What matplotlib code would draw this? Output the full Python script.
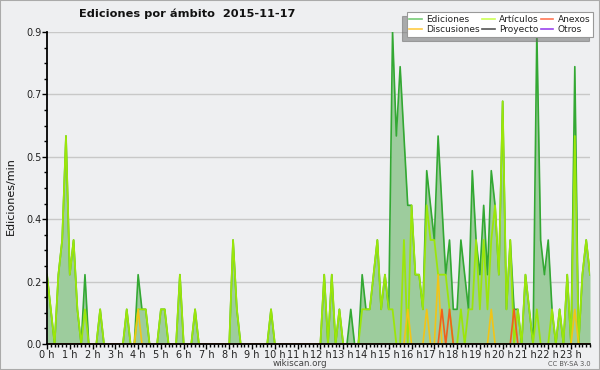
import matplotlib
matplotlib.use("Agg")
import matplotlib.pyplot as plt
from matplotlib.lines import Line2D
from matplotlib.patches import Rectangle
from matplotlib.ticker import FixedLocator, MultipleLocator, FuncFormatter
import numpy as np

# Edits per minute, 10-minute buckets (144 per day)
ediciones = [
    0.2, 0.1, 0, 0.2, 0.3, 0.6, 0.2, 0.3, 0.1, 0, 0.2, 0,
    0, 0, 0.1, 0, 0, 0, 0, 0, 0, 0.1, 0, 0,
    0.2, 0.1, 0.1, 0, 0, 0, 0.1, 0.1, 0, 0, 0, 0.2,
    0, 0, 0, 0.1, 0, 0, 0, 0, 0, 0, 0, 0,
    0, 0.3, 0.1, 0, 0, 0, 0, 0, 0, 0, 0, 0.1,
    0, 0, 0, 0, 0, 0, 0, 0, 0, 0, 0, 0,
    0, 0.2, 0, 0.2, 0, 0.1, 0, 0, 0.1, 0, 0, 0.2,
    0.1, 0.1, 0.2, 0.3, 0.1, 0.2, 0.1, 0.9, 0.6, 0.8, 0.6, 0.4,
    0.4, 0.2, 0.2, 0.1, 0.5, 0.4, 0.3, 0.6, 0.4, 0.2, 0.3, 0.1,
    0.1, 0.3, 0.2, 0.1, 0.5, 0.3, 0.2, 0.4, 0.2, 0.5, 0.4, 0.2,
    0.7, 0.1, 0.3, 0.1, 0.1, 0, 0.2, 0.1, 0, 0.9, 0.3, 0.2,
    0.3, 0.1, 0, 0.1, 0, 0.2, 0, 0.8, 0, 0.2, 0.3, 0.2,
]
articulos = [
    0.2, 0.1, 0, 0.2, 0.3, 0.6, 0.2, 0.3, 0.1, 0, 0.1, 0,
    0, 0, 0.1, 0, 0, 0, 0, 0, 0, 0.1, 0, 0,
    0.1, 0.1, 0.1, 0, 0, 0, 0.1, 0.1, 0, 0, 0, 0.2,
    0, 0, 0, 0.1, 0, 0, 0, 0, 0, 0, 0, 0,
    0, 0.3, 0.1, 0, 0, 0, 0, 0, 0, 0, 0, 0.1,
    0, 0, 0, 0, 0, 0, 0, 0, 0, 0, 0, 0,
    0, 0.2, 0, 0.2, 0, 0.1, 0, 0, 0, 0, 0, 0.1,
    0.1, 0.1, 0.2, 0.3, 0.1, 0.2, 0.1, 0.1, 0, 0, 0.3, 0,
    0.4, 0.2, 0.2, 0.1, 0.4, 0.3, 0.3, 0.2, 0.2, 0.2, 0.1, 0,
    0, 0.1, 0, 0.1, 0.1, 0.3, 0.1, 0.3, 0.1, 0.3, 0.4, 0.2,
    0.7, 0.1, 0.3, 0, 0.1, 0, 0.2, 0.1, 0, 0.1, 0, 0,
    0, 0.1, 0, 0.1, 0, 0.2, 0, 0.6, 0, 0.2, 0.3, 0.2,
]
# sparse series: {bucket index: value}
discusiones_pts = {24: 0.1, 95: 0.1, 100: 0.1, 103: 0.2, 117: 0.1, 139: 0.1}
anexos_pts = {104: 0.1, 106: 0.1, 123: 0.1}

hour_labels = [f"{h} h" for h in range(24)]
legend_names = ["Ediciones", "Discusiones", "Artículos", "Proyecto", "Anexos", "Otros"]

BG = "#eeeff1"
FILL = "#9dcc9d"
C_EDIC = "#33a833"
C_ART = "#9be60a"
C_DISC = "#f2c417"
C_ANEX = "#f0601c"

n = len(ediciones)
x = np.arange(n) / 6.0
discusiones = np.zeros(n)
for k, v in discusiones_pts.items():
    discusiones[k] = v
anexos = np.zeros(n)
for k, v in anexos_pts.items():
    anexos[k] = v

plt.rcParams["font.family"] = "DejaVu Sans"
fig = plt.figure(figsize=(6, 3.7), dpi=100, facecolor=BG)
ax = fig.add_axes([47 / 600, 26 / 370, 543 / 600, 312 / 370], facecolor=BG)

ax.fill_between(x, ediciones, 0, color=FILL, lw=0, zorder=1)
ax.plot(x, ediciones, color=C_EDIC, lw=1.2, zorder=2)
ax.plot(x, articulos, color=C_ART, lw=1.3, zorder=3)
ax.plot(x, discusiones, color=C_DISC, lw=1.2, zorder=4)
ax.plot(x, anexos, color=C_ANEX, lw=1.2, zorder=5)

ax.set_xlim(0, (n - 1) / 6.0)
ax.set_ylim(0, 0.9)

yt = [0, 0.18, 0.36, 0.54, 0.72, 0.9]
ax.yaxis.set_major_locator(FixedLocator(yt))
ax.yaxis.set_major_formatter(FuncFormatter(lambda v, p: f"{v:.1f}"))
ax.yaxis.set_minor_locator(MultipleLocator(0.045))
ax.set_xticks(range(24))
ax.set_xticklabels(hour_labels)
ax.xaxis.set_minor_locator(MultipleLocator(1 / 6))

ax.tick_params(axis="both", which="major", direction="out", length=3.5, width=1,
               labelsize=7, colors="black", labelcolor="#222222", pad=0.5)
ax.tick_params(axis="both", which="minor", direction="out", length=2.5, width=1, colors="black")
ax.grid(axis="y", color="#c8c8c8", lw=1, zorder=0)
ax.set_axisbelow(True)

for s in ["top", "right"]:
    ax.spines[s].set_visible(False)
for s in ["left", "bottom"]:
    ax.spines[s].set_color("black")
    ax.spines[s].set_linewidth(1.3)
    ax.spines[s].set_zorder(6)

fig.text(0.312, 0.962, "Ediciones por ámbito  2015-11-17", ha="center", va="center",
         fontsize=8.2, fontweight="bold", color="#111111")
fig.text(0.018, 0.47, "Ediciones/min", rotation=90, ha="center", va="center",
         fontsize=8, color="#111111")
fig.text(0.5, 1 - 363.5 / 370, "wikiscan.org", ha="center", va="center",
         fontsize=6.3, color="#444444")
fig.text(0.985, 1 - 364 / 370, "CC BY-SA 3.0", ha="right", va="center",
         fontsize=4.8, color="#555555")

legend_colors = ["#77cc77", "#ffcc44", "#ccff55", "#555555", "#ff7755", "#9944ee"]
handles = [Line2D([], [], color=c, lw=1.2) for c in legend_colors]
leg = fig.legend(handles, legend_names, ncol=3, loc="upper right",
                 bbox_to_anchor=(593 / 600, 1 - 12 / 370), fontsize=6.5,
                 frameon=True, fancybox=False, handlelength=1.4, handletextpad=0.5,
                 columnspacing=0.2, labelspacing=0.15, borderpad=0.3, borderaxespad=0,
                 shadow={"ox": -3, "oy": -3, "color": "#666666"})
leg.get_frame().set_edgecolor("#999999")
leg.get_frame().set_linewidth(0.8)
leg.get_frame().set_facecolor("white")
for t in leg.get_texts():
    t.set_color("#222222")

fig.patches.append(Rectangle((0, 0), 1, 1, transform=fig.transFigure, fill=False,
                             edgecolor="#aaaaaa", lw=1.5))

fig.savefig("out.png", dpi=100, facecolor=BG)
